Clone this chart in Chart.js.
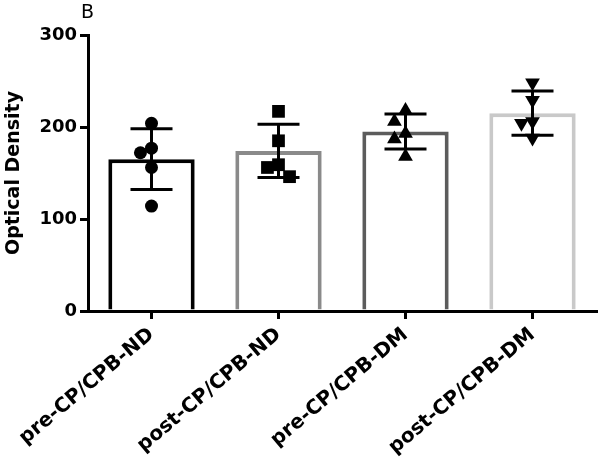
<!DOCTYPE html>
<html>
<head>
<meta charset="utf-8">
<script src="https://cdn.jsdelivr.net/npm/chart.js@4/dist/chart.umd.min.js"></script>
<style>
  html, body { margin: 0; padding: 0; background: #fff; overflow: hidden; }
  canvas { display: block; }
</style>
</head>
<body>
<canvas id="odChart" width="600" height="459"></canvas>
<script>
// groups on the x axis
const groups = ["pre-CP/CPB-ND", "post-CP/CPB-ND", "pre-CP/CPB-DM", "post-CP/CPB-DM"];
// bar heights (mean) and error bars (SD)
const means = [165, 174, 195, 215];
const sds = [33, 29, 19, 24];
// individual samples per group
const preND = [204, 177, 172, 156, 114];
const postND = [217, 185, 159, 156, 146];
const preDM = [218, 206, 193, 187, 168];
const postDM = [248, 229, 206, 204, 188];
const yTicks = [0, 100, 200, 300];

const samples = [preND, postND, preDM, postDM];
const barColors = ["#000000", "#8a8a8a", "#5c5c5c", "#c9c9c9"];
const markers = ["circle", "rect", "triangle", "triangle"];
const markerRot = [0, 0, 0, 180];
const markerSize = [6.5, 9, 8.5, 8.5];

// spread points that sit too close together sideways, like a column scatter
function spread(values) {
  const slot = 0.087;
  const placed = [];
  const offs = [];
  const order = values.map((v, i) => i).sort((a, b) => values[b] - values[a]);
  order.forEach((i) => {
    for (const s of [0, -1, 1, 2, -2]) {
      const hit = placed.some((p) => p.s === s && Math.abs(p.v - values[i]) < 15);
      if (!hit) {
        placed.push({ s: s, v: values[i] });
        offs[i] = s * slot;
        break;
      }
    }
  });
  return offs;
}

const datasets = [];

// scatter points
samples.forEach((vals, g) => {
  const offs = spread(vals);
  datasets.push({
    type: "scatter",
    xAxisID: "xs",
    order: 0,
    data: vals.map((v, i) => ({ x: g + offs[i], y: v })),
    pointStyle: markers[g],
    rotation: markerRot[g],
    pointRadius: markerSize[g],
    pointBackgroundColor: "#000",
    pointBorderColor: "#000",
    pointBorderWidth: 0,
  });
});

// error bars
means.forEach((m, g) => {
  datasets.push({
    type: "line",
    xAxisID: "xs",
    order: 1,
    data: [
      { x: g, y: m - sds[g] },
      { x: g, y: m + sds[g] },
    ],
    borderColor: "#000",
    borderWidth: 3,
    pointStyle: "line",
    pointRadius: 21,
    pointBorderWidth: 3,
    pointBorderColor: "#000",
    fill: false,
  });
});

// the bars
datasets.push({
  type: "bar",
  xAxisID: "x",
  order: 2,
  grouped: false,
  data: means,
  backgroundColor: "#ffffff",
  borderColor: barColors,
  borderWidth: 4,
  barPercentage: 0.68,
  categoryPercentage: 1,
});

const panelLetter = {
  id: "panelLetter",
  afterDraw(chart) {
    const ctx = chart.ctx;
    ctx.save();
    ctx.fillStyle = "#000";
    ctx.font = "19px 'DejaVu Sans'";
    ctx.textBaseline = "alphabetic";
    ctx.fillText("B", 81, 18);
    ctx.restore();
  },
};

new Chart(document.getElementById("odChart"), {
  type: "bar",
  data: { labels: groups, datasets: datasets },
  plugins: [panelLetter],
  options: {
    responsive: false,
    animation: false,
    layout: { autoPadding: false, padding: { top: 35, right: 4, left: 0, bottom: 0 } },
    plugins: {
      legend: { display: false },
      tooltip: { enabled: false },
    },
    scales: {
      x: {
        type: "category",
        offset: true,
        afterFit: (scale) => {
          scale.height = 148;
        },
        border: { color: "#000", width: 3 },
        grid: {
          drawOnChartArea: false,
          offset: false,
          drawTicks: true,
          tickLength: 8,
          color: "#000",
          lineWidth: 3,
        },
        ticks: {
          color: "#000",
          minRotation: 40,
          maxRotation: 40,
          padding: 4,
          font: { family: "'DejaVu Sans'", size: 20, weight: "bold" },
        },
      },
      xs: {
        type: "linear",
        display: false,
        offset: false,
        min: -0.5,
        max: 3.5,
      },
      y: {
        min: 0,
        max: 300,
        afterFit: (scale) => { scale.width = 88; },
        afterBuildTicks: (scale) => {
          scale.ticks = yTicks.map((v) => ({ value: v }));
        },
        border: { color: "#000", width: 3 },
        grid: {
          drawOnChartArea: false,
          drawTicks: true,
          tickLength: 8,
          color: "#000",
          lineWidth: 3,
        },
        ticks: {
          color: "#000",
          padding: 3,
          font: { family: "'DejaVu Sans'", size: 18, weight: "bold" },
        },
        title: {
          display: true,
          text: "Optical Density",
          color: "#000",
          padding: { top: 3, bottom: 2 },
          font: { family: "'DejaVu Sans'", size: 19, weight: "bold" },
        },
      },
    },
  },
});
</script>
</body>
</html>
